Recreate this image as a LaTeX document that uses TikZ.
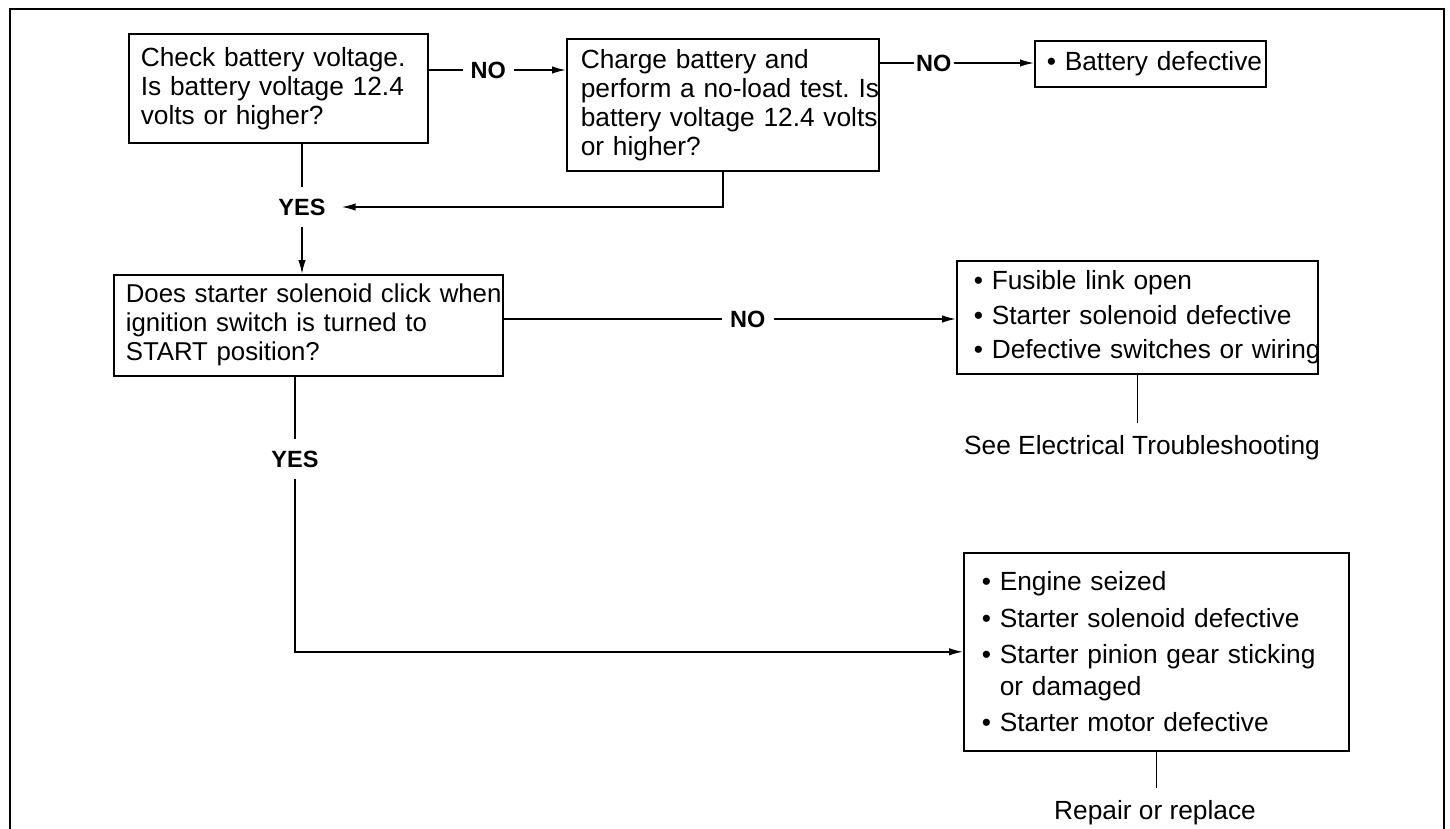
\documentclass[tikz,border=0pt]{standalone}
\usepackage{fontspec}
\setmainfont{Liberation Sans}
\usetikzlibrary{arrows.meta}
\frenchspacing
\begin{document}
\begin{tikzpicture}[x=1pt,y=-1pt,
  box/.style={draw, line width=1.6pt, anchor=north west, align=left,
    font=\fontsize{26.3}{29}\selectfont, inner ysep=0pt},
  lbl/.style={font=\bfseries\fontsize{23.5}{23.5}\selectfont, text height=17pt,
    text depth=0pt, inner ysep=11pt},
  note/.style={font=\fontsize{26.3}{29}\selectfont, text height=19pt,
    text depth=0pt, inner ysep=12pt, inner xsep=0pt},
  conn/.style={line width=1.5pt},
  arr/.style={conn, -{Latex[length=14pt,width=7.5pt]}}]
\useasboundingbox (0,0) rectangle (1450,829);
% frame
\draw[line width=2.6pt] (10,829) -- (10,9) -- (1444,9) -- (1444,829);

% boxes
\node[box, inner xsep=12pt, text width=275pt, minimum height=109pt] (b1) at (128,33)
  {\mbox{Check battery voltage.}\\\mbox{Is battery voltage 12.4}\\\mbox{volts or higher?}};
\node[box, inner xsep=14pt, text width=284pt, minimum height=132pt] (b2) at (566,38)
  {\mbox{Charge battery and}\\\mbox{perform a no-load test. Is}\\\mbox{battery voltage 12.4 volts}\\\mbox{or higher?}};
\node[box, inner xsep=12pt, text width=207pt, minimum height=46pt] (bd) at (1034,40)
  {\mbox{• Battery defective}};
\node[box, inner xsep=12pt, text width=365pt, minimum height=101pt,
  font=\fontsize{25.8}{29}\selectfont] (b3) at (113,274)
  {\mbox{Does starter solenoid click when}\\\mbox{ignition switch is turned to}\\\mbox{START position?}};
\node[box, inner xsep=17pt, text width=327pt, minimum height=113pt,
  font=\fontsize{26.3}{34.5}\selectfont] (b4) at (956,260)
  {\mbox{• Fusible link open}\\\mbox{• Starter solenoid defective}\\\mbox{• Defective switches or wiring}};
\node[box, inner xsep=18pt, text width=349pt, minimum height=198pt,
  font=\fontsize{26.3}{36.5}\selectfont] (b5) at (963,552)
  {\mbox{• Engine seized}\\\mbox{• Starter solenoid defective}\\\mbox{• Starter pinion gear sticking}\\[-5pt]\mbox{\hphantom{•} or damaged}\\\mbox{• Starter motor defective}};

% labels
\node[lbl, anchor=west, inner xsep=7.5pt] (no1) at (463,70) {NO};
\node[lbl, anchor=west, inner xsep=2pt] (no2) at (914,63) {NO\hspace{13pt}};
\node[lbl, anchor=west, inner xsep=8pt] (no3) at (722,319) {NO};
\node[lbl, inner xsep=16pt] (yes1) at (302,207) {YES};
\node[lbl, inner xsep=16pt] (yes2) at (295,459) {YES};
\node[note] (see) at (1142,445) {See Electrical Troubleshooting};
\node[note] (rep) at (1155,810) {Repair or replace};

% connectors
\draw[conn] (no1.west -| b1.east) -- (no1.west);
\draw[arr] (no1.east) -- (no1.east -| b2.west);
\draw[conn] (no2.west -| b2.east) -- (no2.west);
\draw[arr] (no2.east) -- (no2.east -| bd.west);
\draw[arr] (b2.south) |- (yes1.east);
\draw[conn] (b1.south -| yes1.north) -- (yes1.north);
\draw[arr] (yes1.south) -- (yes1.south |- b3.north);
\draw[conn] (no3.west -| b3.east) -- (no3.west);
\draw[arr] (no3.east) -- (no3.east -| b4.west);
\draw[conn] (b4.south) -- (b4.south |- see.north);
\draw[conn] (b3.south -| yes2.north) -- (yes2.north);
\draw[arr] (yes2.south) |- (b5.west);
\draw[conn] (b5.south) -- (b5.south |- rep.north);
\end{tikzpicture}
\end{document}
